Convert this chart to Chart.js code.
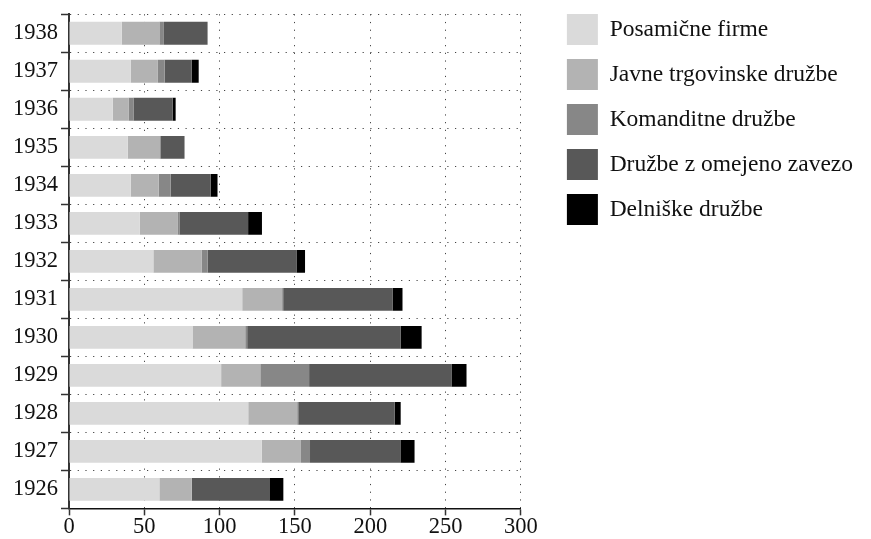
<!DOCTYPE html>
<html>
<head>
<meta charset="utf-8">
<script src="https://cdn.jsdelivr.net/npm/chart.js@4.4.0/dist/chart.umd.min.js"></script>
<style>
  body { margin: 0; background: #fff; }
</style>
</head>
<body>
<canvas id="firmChart" width="871" height="539"></canvas>
<script>
// leta (od zgoraj navzdol)
var years = ['1938', '1937', '1936', '1935', '1934', '1933', '1932', '1931', '1930', '1929', '1928', '1927', '1926'];

var posamicne = [35, 41, 29, 39, 41, 47, 56, 115, 82, 101, 119, 128, 60];
var javne = [25, 18, 10.5, 21, 18.5, 25, 32, 26.5, 35, 26, 32.5, 26, 21.5];
var komanditne = [3, 4.5, 3.3, 0.7, 8, 1.3, 4, 0.7, 1.3, 32.4, 0.7, 6, 0];
var doo = [29, 18, 26, 16, 26.5, 45.6, 59, 72.6, 101.8, 94.5, 64, 60, 51.5];
var delniske = [0, 4.6, 2, 0, 4.6, 9.2, 5.7, 6.6, 14, 10, 4, 9.4, 9.3];

var seriesNames = ['Posamične firme', 'Javne trgovinske družbe', 'Komanditne družbe', 'Družbe z omejeno zavezo', 'Delniške družbe'];
var seriesColors = ['#dadada', '#b3b3b3', '#878787', '#585858', '#000000'];

var xTicks = [0, 50, 100, 150, 200, 250, 300];

var fontFamily = '"Liberation Serif", "DejaVu Serif", serif';

var seriesValues = [posamicne, javne, komanditne, doo, delniske];
var datasets = [];
for (var i = 0; i < seriesNames.length; i++) {
  datasets.push({
    label: seriesNames[i],
    data: seriesValues[i],
    backgroundColor: seriesColors[i],
    borderWidth: 0,
    barPercentage: 0.6,
    categoryPercentage: 1.0,
    xAxisID: 'x',
    yAxisID: 'y'
  });
}

const ctx = document.getElementById('firmChart');

new Chart(ctx, {
  type: 'bar',
  data: {
    labels: years,
    datasets: datasets
  },
  options: {
    indexAxis: 'y',
    responsive: false,
    animation: false,
    devicePixelRatio: 1,
    layout: {
      padding: { left: 10, right: 8, top: 0, bottom: 0 }
    },
    plugins: {
      tooltip: { enabled: false },
      legend: {
        position: 'right',
        align: 'start',
        maxWidth: 340,
        labels: {
          boxWidth: 31,
          boxHeight: 31,
          padding: 14,
          color: '#111',
          font: { family: fontFamily, size: 23.5 }
        }
      }
    },
    scales: {
      x: {
        stacked: true,
        min: 0,
        max: 300,
        afterBuildTicks: function(scale) {
          scale.ticks = xTicks.map(function(v) { return { value: v }; });
        },
        grid: {
          color: '#444',
          lineWidth: 1,
          tickLength: 7,
          tickColor: '#333',
          tickWidth: 1.5,
          tickBorderDash: []
        },
        border: { display: true, color: '#111', width: 1.5, dash: [1.2, 6.5] },
        ticks: {
          color: '#111',
          padding: 0,
          maxRotation: 0,
          font: { family: fontFamily, size: 22.5, lineHeight: 1.05 }
        }
      },
      y: {
        stacked: true,
        grid: {
          offset: true,
          color: '#444',
          lineWidth: 1,
          tickLength: 8,
          tickColor: '#333',
          tickWidth: 1.5,
          tickBorderDash: []
        },
        border: { display: true, color: '#333', width: 2, dash: [1.2, 6.5] },
        ticks: {
          color: '#111',
          padding: 3,
          font: { family: fontFamily, size: 22.5, lineHeight: 1.0 }
        }
      },
      // prazna os desno, razmik do legende
      y2: {
        type: 'linear',
        position: 'right',
        display: true,
        grid: { display: false },
        border: { display: false },
        ticks: { display: false },
        afterFit: function(scale) { scale.width = 32; }
      }
    }
  }
});
</script>
</body>
</html>
